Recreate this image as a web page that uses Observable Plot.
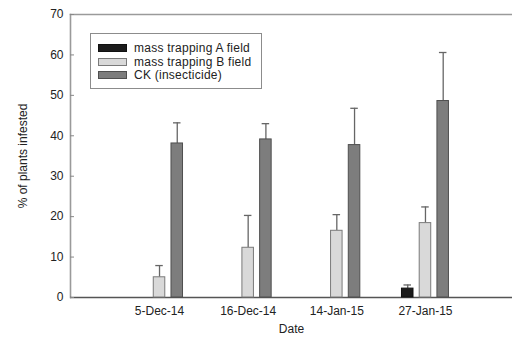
<!DOCTYPE html>
<html>
<head>
<meta charset="utf-8">
<script src="https://cdn.jsdelivr.net/npm/d3@7"></script>
<script src="https://cdn.jsdelivr.net/npm/@observablehq/plot@0.6"></script>
<style>
  html, body { margin: 0; padding: 0; background: #fff; }
  #wrap { position: relative; width: 512px; height: 337px; font-family: 'Liberation Sans', Arial, sans-serif; }
  #legend { position: absolute; left: 90px; top: 33px; width: 172px; height: 56px; border: 1.5px solid #8c8c8c; box-sizing: border-box; background: #fff; padding-top: 7px; }
  .row { display: flex; align-items: center; height: 13.7px; font-size: 12px; color: #222; letter-spacing: 0.25px; }
  .sw { width: 27px; height: 6px; margin-left: 7px; margin-right: 7px; border: 1px solid #555; }
</style>
</head>
<body>
<div id="wrap"></div>
<script>
const dates = ["5-Dec-14", "16-Dec-14", "14-Jan-15", "27-Jan-15"];
const series = ["mass trapping A field", "mass trapping B field", "CK (insecticide)"];
const valuesA = [0, 0, 0, 2.2];
const errA = [0, 0, 0, 0.9];
const valuesB = [5.0, 12.3, 16.5, 18.4];
const errB = [2.9, 8.0, 4.0, 4.0];
const valuesCK = [38.1, 39.1, 37.7, 48.6];
const errCK = [5.1, 3.9, 9.1, 12.0];
const yTicks = [0, 10, 20, 30, 40, 50, 60, 70];

const fills = {"mass trapping A field": "#1c1c1c", "mass trapping B field": "#d9d9d9", "CK (insecticide)": "#7d7d7d"};
const strokes = {"mass trapping A field": "#111111", "mass trapping B field": "#7a7a7a", "CK (insecticide)": "#4f4f4f"};

// slot keys: each date gets its three series slots plus two empty spacer slots
const key = (d, s) => d + "|" + s;
const xDomain = dates.flatMap(d => [...series.map(s => key(d, s)), key(d, "gap1"), key(d, "gap2")]);

const rows = [];
[valuesA, valuesB, valuesCK].forEach((vals, si) => {
  const errs = [errA, errB, errCK][si];
  vals.forEach((v, di) => {
    if (v > 0) rows.push({slot: key(dates[di], series[si]), series: series[si], value: v, upper: v + errs[di]});
  });
});

const plot = Plot.plot({
  width: 512,
  height: 337,
  marginLeft: 70,
  marginRight: 0,
  marginTop: 14,
  marginBottom: 40,
  style: {fontFamily: "'Liberation Sans', Arial, sans-serif", fontSize: "12px", background: "white", color: "#222"},
  x: {domain: xDomain, paddingInner: 0.35, paddingOuter: 2.64, align: 0.70, round: false},
  y: {domain: [0, 70]},
  marks: [
    Plot.frame({anchor: "top", stroke: "#9a9a9a", strokeWidth: 1.6}),
    Plot.frame({anchor: "left", stroke: "#9a9a9a", strokeWidth: 1.6}),
    Plot.ruleY([0], {stroke: "#555", strokeWidth: 1.5}),
    Plot.ruleX(rows, {x: "slot", y1: "value", y2: "upper", stroke: "#666", strokeWidth: 1.3}),
    Plot.tickY(rows, {x: "slot", y: "upper", stroke: "#666", strokeWidth: 1.3, insetLeft: 2, insetRight: 2}),
    Plot.barY(rows, {x: "slot", y: "value", fill: d => fills[d.series], stroke: d => strokes[d.series], strokeWidth: 1}),
    Plot.axisY({anchor: "left", ticks: yTicks, tickSize: -4, tickPadding: 11, stroke: "#888", label: "% of plants infested", labelAnchor: "center", labelOffset: 52, labelArrow: "none"}),
    Plot.axisX({anchor: "bottom", ticks: dates.map(d => key(d, series[1])), tickFormat: k => k.split("|")[0], tickSize: 0, tickPadding: 9, label: "Date", labelAnchor: "center", labelOffset: 35, labelArrow: "none"})
  ]
});

const wrap = document.getElementById("wrap");
wrap.appendChild(plot);
const legend = document.createElement("div");
legend.id = "legend";
series.forEach(s => {
  const row = document.createElement("div");
  row.className = "row";
  const sw = document.createElement("span");
  sw.className = "sw";
  sw.style.background = fills[s];
  sw.style.borderColor = strokes[s];
  const t = document.createElement("span");
  t.textContent = s;
  row.appendChild(sw);
  row.appendChild(t);
  legend.appendChild(row);
});
wrap.appendChild(legend);
</script>
</body>
</html>
